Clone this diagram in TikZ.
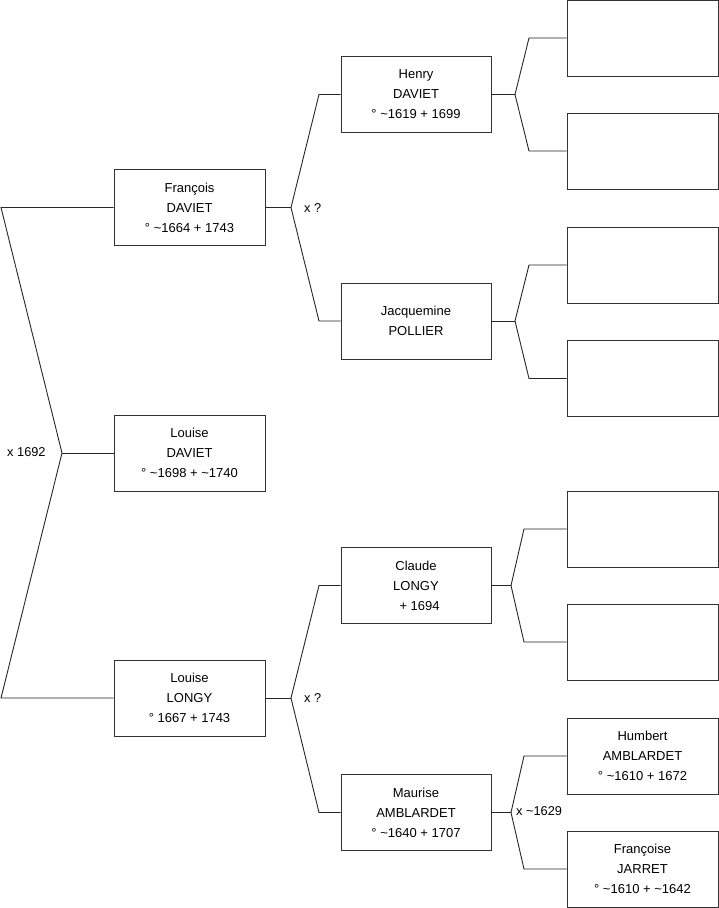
\documentclass[tikz,border=0pt]{standalone}
\usepackage{fontspec}
\setmainfont{Liberation Sans}
\begin{document}
\begin{tikzpicture}[x=1pt,y=-1pt,
  pbox/.style={draw=black!80,line width=0.9pt,fill=white,minimum width=151pt,minimum height=76pt,
    inner sep=0pt,align=center,font=\fontsize{13}{20}\selectfont},
  link/.style={draw=black!85,line width=0.9pt},
  lbl/.style={font=\fontsize{12.8}{14}\selectfont,inner sep=0pt}]
\useasboundingbox (0,0) rectangle (719,908);
% generation 1
\node[pbox] (fd) at (189.5,207.5) {François\\DAVIET\\° \textasciitilde1664 + 1743};
\node[pbox] (ld) at (189.5,453) {Louise\\DAVIET\\° \textasciitilde1698 + \textasciitilde1740};
\node[pbox] (ll) at (189.5,698) {Louise\\LONGY\\° 1667 + 1743};
% generation 2
\node[pbox,minimum width=150pt] (hd) at (416,94.5) {Henry\\DAVIET\\° \textasciitilde1619 + 1699};
\node[pbox,minimum width=150pt] (jp) at (416,321) {Jacquemine\\POLLIER};
\node[pbox,minimum width=150pt] (cl) at (416,585.5) {Claude\\LONGY\\\ \ + 1694};
\node[pbox,minimum width=150pt] (ma) at (416,812.5) {Maurise\\AMBLARDET\\° \textasciitilde1640 + 1707};
% generation 3
\node[pbox] (e1) at (642.5,38) {};
\node[pbox] (e2) at (642.5,151) {};
\node[pbox] (e3) at (642.5,265) {};
\node[pbox] (e4) at (642.5,378.5) {};
\node[pbox] (e5) at (642.5,529) {};
\node[pbox] (e6) at (642.5,642) {};
\node[pbox] (ha) at (642.5,756) {Humbert\\AMBLARDET\\° \textasciitilde1610 + 1672};
\node[pbox] (fj) at (642.5,869) {Françoise\\JARRET\\° \textasciitilde1610 + \textasciitilde1642};
% fork points
\coordinate (r1) at (1,207.5);
\coordinate (r2) at (1,698);
\coordinate (k0) at (62,453);
\coordinate (k1) at (291,207.5);
\coordinate (a1) at (319,94.5);
\coordinate (b1) at (319,321);
\coordinate (k2) at (291,698);
\coordinate (a2) at (319,585.5);
\coordinate (b2) at (319,812.5);
\coordinate (k3) at (515,94.5);
\coordinate (a3) at (529,38);
\coordinate (b3) at (529,151);
\coordinate (k4) at (515,321);
\coordinate (a4) at (529,265);
\coordinate (b4) at (529,378.5);
\coordinate (k5) at (511,585.5);
\coordinate (a5) at (524,529);
\coordinate (b5) at (524,642);
\coordinate (k6) at (511,812.5);
\coordinate (a6) at (524,756);
\coordinate (b6) at (524,869);
% connectors
\draw[link] (fd.west) -- (r1) -- (k0) -- (r2) -- (ll.west);
\draw[link] (k0) -- (ld.west);
\draw[link] (fd.east) -- (k1);
\draw[link] (hd.west) -- (a1) -- (k1) -- (b1) -- (jp.west);
\draw[link] (ll.east) -- (k2);
\draw[link] (cl.west) -- (a2) -- (k2) -- (b2) -- (ma.west);
\draw[link] (hd.east) -- (k3);
\draw[link] (e1.west) -- (a3) -- (k3) -- (b3) -- (e2.west);
\draw[link] (jp.east) -- (k4);
\draw[link] (e3.west) -- (a4) -- (k4) -- (b4) -- (e4.west);
\draw[link] (cl.east) -- (k5);
\draw[link] (e5.west) -- (a5) -- (k5) -- (b5) -- (e6.west);
\draw[link] (ma.east) -- (k6);
\draw[link] (ha.west) -- (a6) -- (k6) -- (b6) -- (fj.west);
% labels
\node[lbl,anchor=west] (l0) at (7,452) {x 1692};
\node[lbl,anchor=west] (l1) at (304,208) {x ?};
\node[lbl,anchor=west] (l2) at (304,698) {x ?};
\node[lbl,anchor=west] (l3) at (516,811) {x \textasciitilde1629};
\end{tikzpicture}
\end{document}
